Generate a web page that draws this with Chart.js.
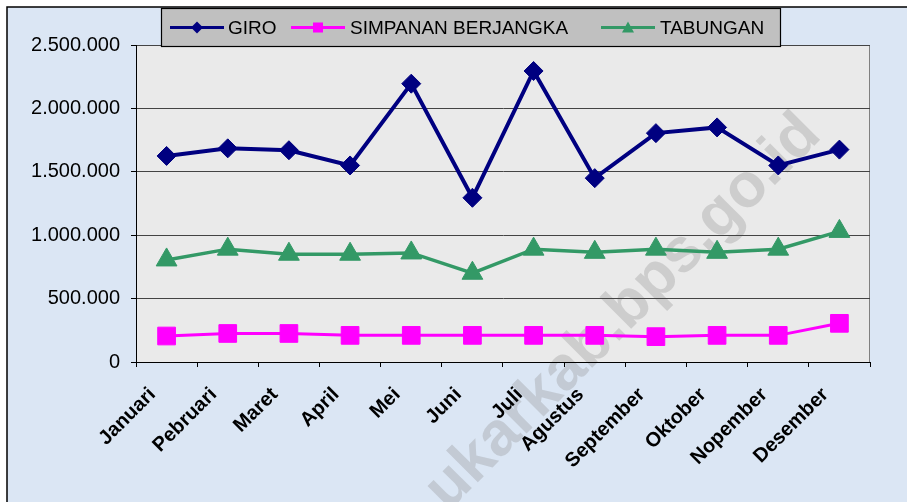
<!DOCTYPE html>
<html>
<head>
<meta charset="utf-8">
<script src="https://cdn.jsdelivr.net/npm/chart.js@4.4.1/dist/chart.umd.min.js"></script>
<style>
  html, body { margin: 0; padding: 0; background: #fff; }
  canvas { display: block; }
</style>
</head>
<body>
<canvas id="chart" width="907" height="502"></canvas>
<script>
const months = ['Januari', 'Pebruari', 'Maret', 'April', 'Mei', 'Juni', 'Juli', 'Agustus', 'September', 'Oktober', 'Nopember', 'Desember']
const giro = [1625000, 1685000, 1670000, 1550000, 2195000, 1295000, 2295000, 1450000, 1805000, 1850000, 1550000, 1675000]
const simpananBerjangka = [205000, 225000, 225000, 210000, 210000, 210000, 210000, 210000, 200000, 210000, 210000, 305000]
const tabungan = [805000, 890000, 850000, 850000, 860000, 700000, 890000, 865000, 890000, 865000, 890000, 1030000]
const yTicks = [0, 500000, 1000000, 1500000, 2000000, 2500000]
const watermark = 'ukarkab.bps.go.id'

const FONT = "'Liberation Sans', Arial, sans-serif"

// dots as thousand separators, like the source
const fmt = v => String(v).replace(/\B(?=(\d{3})+(?!\d))/g, '.')

const backdrop = {
  id: 'backdrop',
  beforeDraw (chart) {
    const { ctx, width, height, chartArea: a } = chart
    ctx.save()
    ctx.fillStyle = '#fff'
    ctx.fillRect(0, 0, width, height)
    ctx.fillStyle = '#dbe6f4'
    ctx.fillRect(7, 7, width, height)
    ctx.strokeStyle = '#000'
    ctx.lineWidth = 1.5
    ctx.beginPath()
    ctx.moveTo(7, height)
    ctx.lineTo(7, 7)
    ctx.lineTo(width, 7)
    ctx.stroke()

    ctx.fillStyle = '#eaeaea'
    ctx.fillRect(a.left, a.top, a.width, a.height)
    ctx.strokeStyle = '#808080'
    ctx.lineWidth = 1
    ctx.strokeRect(a.left + 0.5, a.top + 0.5, a.width - 1, a.height)

    // faint watermark across the picture
    ctx.translate(448, 512)
    ctx.rotate(-Math.PI / 4)
    ctx.font = 'bold 62px ' + FONT
    ctx.fillStyle = 'rgba(140, 140, 140, 0.3)'
    ctx.textBaseline = 'alphabetic'
    ctx.fillText(watermark, 0, 0)
    ctx.restore()
  }
}

const legendSlots = [
  { line: 170, text: 228 },
  { line: 291, text: 350 },
  { line: 601, text: 660 }
]

const legendBox = {
  id: 'legendBox',
  afterDraw (chart) {
    const { ctx } = chart
    ctx.save()
    ctx.fillStyle = '#c0c0c0'
    ctx.fillRect(161.5, 8.5, 619, 38)
    ctx.strokeStyle = '#000'
    ctx.lineWidth = 1.2
    ctx.strokeRect(161.5, 8.5, 619, 38)

    const y = 27.5
    chart.data.datasets.forEach((ds, i) => {
      const s = legendSlots[i]
      const cx = s.line + 27
      ctx.strokeStyle = ds.borderColor
      ctx.lineWidth = 3
      ctx.beginPath()
      ctx.moveTo(s.line, y)
      ctx.lineTo(s.line + 54, y)
      ctx.stroke()

      ctx.fillStyle = ds.backgroundColor
      ctx.beginPath()
      if (ds.pointStyle === 'rectRot') {
        ctx.moveTo(cx - 6, y); ctx.lineTo(cx, y - 6); ctx.lineTo(cx + 6, y); ctx.lineTo(cx, y + 6)
      } else if (ds.pointStyle === 'rect') {
        ctx.rect(cx - 5, y - 5, 10, 10)
      } else {
        ctx.moveTo(cx, y - 6); ctx.lineTo(cx + 6, y + 5); ctx.lineTo(cx - 6, y + 5)
      }
      ctx.closePath()
      ctx.fill()

      ctx.fillStyle = '#000'
      ctx.font = '19px ' + FONT
      ctx.textBaseline = 'middle'
      ctx.fillText(ds.label, s.text, y + 1)
    })
    ctx.restore()
  }
}

new Chart(document.getElementById('chart'), {
  type: 'line',
  data: {
    labels: months,
    datasets: [
      {
        label: 'GIRO',
        data: giro,
        borderColor: '#000080',
        backgroundColor: '#000080',
        borderWidth: 4,
        pointStyle: 'rectRot',
        pointRadius: 9.5,
        pointBorderWidth: 1
      },
      {
        label: 'SIMPANAN BERJANGKA',
        data: simpananBerjangka,
        borderColor: '#ff00ff',
        backgroundColor: '#ff00ff',
        borderWidth: 3,
        pointStyle: 'rect',
        pointRadius: 12.5,
        pointBorderWidth: 1
      },
      {
        label: 'TABUNGAN',
        data: tabungan,
        borderColor: '#339966',
        backgroundColor: '#339966',
        borderWidth: 3.5,
        pointStyle: 'triangle',
        pointRadius: 12,
        pointBorderWidth: 1
      }
    ]
  },
  options: {
    responsive: false,
    animation: false,
    layout: {
      padding: { left: 8, top: 45, right: 37, bottom: 0 }
    },
    scales: {
      x: {
        offset: true,
        afterFit: scale => { scale.height = 140 },
        grid: {
          offset: true,
          drawOnChartArea: false,
          drawTicks: true,
          tickLength: 5,
          tickColor: '#000'
        },
        border: { color: '#000', width: 1 },
        ticks: {
          autoSkip: false,
          minRotation: 45,
          maxRotation: 45,
          labelOffset: -14,
          padding: 16,
          color: '#000',
          font: { family: FONT, size: 20, weight: 'bold' }
        }
      },
      y: {
        min: 0,
        max: 2500000,
        afterFit: scale => { scale.width = 128 },
        afterBuildTicks: scale => { scale.ticks = yTicks.map(v => ({ value: v })) },
        grid: {
          color: '#444',
          lineWidth: 1,
          tickLength: 5,
          tickColor: '#000'
        },
        border: { color: '#000', width: 1 },
        ticks: {
          padding: 11,
          color: '#000',
          font: { family: FONT, size: 20 },
          callback: v => fmt(v)
        }
      }
    },
    plugins: {
      legend: { display: false },
      tooltip: { enabled: false }
    }
  },
  plugins: [backdrop, legendBox]
})
</script>
</body>
</html>
